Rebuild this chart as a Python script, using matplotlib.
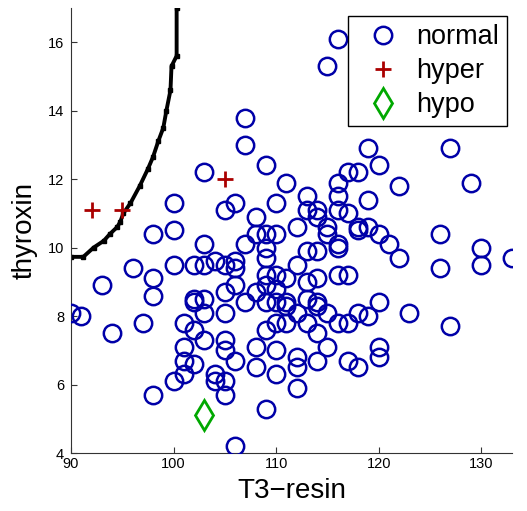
import matplotlib
matplotlib.use("Agg")
import matplotlib.pyplot as plt

plt.rcParams['font.family'] = ['Liberation Sans', 'DejaVu Sans']

normal_t3 = [116, 115, 107, 107, 127, 119, 109, 120, 103, 117, 118, 111, 116, 122, 129,
             113, 116, 119, 100, 106, 110, 105, 113, 114, 116, 117, 108, 114, 112, 115,
             115, 118, 118, 119, 120, 126, 98, 100, 108, 109, 110, 103, 107, 121, 109,
             116, 116, 130, 113, 114, 109, 122, 133, 104, 106, 96, 100, 102, 103, 105,
             106, 112, 126, 130, 109, 110, 111, 116, 117, 98, 113, 114, 93, 106, 108,
             109, 110, 98, 102, 103, 102, 105, 107, 109, 110, 111, 111, 113, 114, 114,
             120, 90, 91, 103, 105, 112, 115, 118, 119, 123, 97, 101, 110, 111, 113,
             116, 117, 127, 102, 109, 94, 114, 103, 105, 101, 108, 115, 120, 105, 110,
             101, 102, 106, 112, 114, 117, 120, 108, 112, 118, 101, 104, 110, 100, 104,
             105, 98, 105, 112, 109, 106]
normal_thy = [16.1, 15.3, 13.8, 13.0, 12.9, 12.9, 12.4, 12.4, 12.2, 12.2, 12.2, 11.9, 11.9, 11.8, 11.9,
              11.5, 11.5, 11.4, 11.3, 11.3, 11.3, 11.1, 11.1, 11.1, 11.1, 11.0, 10.9, 10.9, 10.6, 10.6,
              10.4, 10.6, 10.5, 10.6, 10.4, 10.4, 10.4, 10.5, 10.4, 10.4, 10.4, 10.1, 10.1, 10.1, 10.0,
              10.1, 10.0, 10.0, 9.9, 9.9, 9.7, 9.7, 9.7, 9.6, 9.6, 9.4, 9.5, 9.5, 9.5, 9.5,
              9.4, 9.5, 9.4, 9.5, 9.2, 9.2, 9.1, 9.2, 9.2, 9.1, 9.0, 9.1, 8.9, 8.9, 8.7,
              8.9, 8.8, 8.6, 8.5, 8.5, 8.4, 8.7, 8.4, 8.4, 8.4, 8.4, 8.3, 8.5, 8.4, 8.3,
              8.4, 8.1, 8.0, 8.1, 8.1, 8.1, 8.1, 8.1, 8.0, 8.1, 7.8, 7.8, 7.8, 7.8, 7.8,
              7.8, 7.8, 7.7, 7.6, 7.6, 7.5, 7.5, 7.3, 7.3, 7.1, 7.1, 7.1, 7.1, 7.0, 7.0,
              6.7, 6.6, 6.7, 6.8, 6.7, 6.7, 6.8, 6.5, 6.5, 6.5, 6.3, 6.3, 6.3, 6.1, 6.1,
              6.1, 5.7, 5.7, 5.9, 5.3, 4.2]

hyper_t3 = [92, 95, 105]
hyper_thy = [11.1, 11.1, 12.0]

hypo_t3 = [103]
hypo_thy = [5.1]

boundary_t3 = [90.0, 91.2, 92.2, 93.2, 93.8, 94.5, 94.8, 95.1, 95.8, 96.7, 97.5, 98.0,
               98.5, 99.0, 99.3, 99.7, 99.8, 100.3, 100.3]
boundary_thy = [9.73, 9.73, 10.0, 10.2, 10.4, 10.6, 10.75, 11.0, 11.3, 11.8, 12.3, 12.65,
                13.1, 13.5, 14.0, 14.6, 15.3, 15.6, 17.0]

xticks = [90, 100, 110, 120, 130]
yticks = [4, 6, 8, 10, 12, 14, 16]

fig = plt.figure(figsize=(5.27, 5.11), dpi=100)
ax = fig.add_axes([71/527, 58/511, (512-71)/527, (453-8)/511])

ax.plot(boundary_t3, boundary_thy, color='black', lw=2.8, marker='s', ms=2.8, zorder=2)
ax.plot(normal_t3, normal_thy, linestyle='none', marker='o', ms=12.5, mfc='none',
        mec='#0000A8', mew=1.8, label='normal', zorder=3)
ax.plot(hyper_t3, hyper_thy, linestyle='none', marker='+', ms=12, mec='#AA0000',
        mew=2, label='hyper', zorder=3)
ax.plot(hypo_t3, hypo_thy, linestyle='none', marker='d', ms=15, mfc='none',
        mec='#00A800', mew=2, label='hypo', zorder=3)

ax.set_xlim(90, 133)
ax.set_ylim(4, 17)
ax.set_xticks(xticks)
ax.set_yticks(yticks)
ax.tick_params(direction='in', length=4, width=0.8, labelsize=10.5, colors='#333333',
               labelcolor='black')
ax.tick_params(axis='y', pad=5)
ax.tick_params(axis='x', pad=3)
ax.spines['top'].set_visible(False)
ax.spines['right'].set_visible(False)
for s in ('left', 'bottom'):
    ax.spines[s].set_color('#333333')
    ax.spines[s].set_linewidth(0.8)

ax.set_xlabel('T3\u2212resin', fontsize=20, labelpad=5)
ax.set_ylabel('thyroxin', fontsize=20, labelpad=7)

leg = ax.legend(loc='upper right', bbox_to_anchor=(507/527, 1 - 16/511),
                bbox_transform=fig.transFigure, fontsize=19.5,
                frameon=True, fancybox=False, edgecolor='black', framealpha=1,
                handlelength=2.0, handletextpad=0.2, borderpad=0.3, labelspacing=0.3,
                borderaxespad=0)
leg.get_frame().set_linewidth(1.0)

fig.savefig('out.png', dpi=100)
